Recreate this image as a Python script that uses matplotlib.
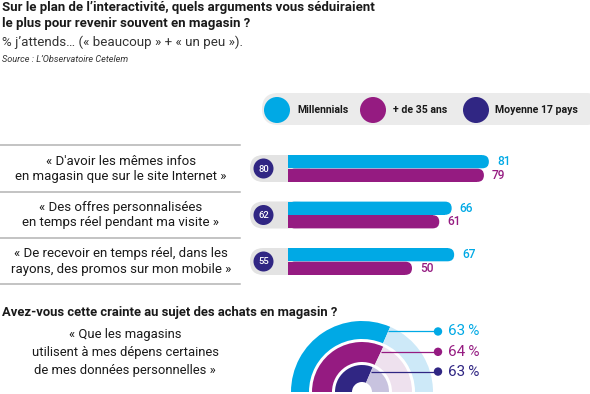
import matplotlib
matplotlib.use("Agg")
import matplotlib.pyplot as plt
import numpy as np
from matplotlib.patches import FancyBboxPatch, Circle

plt.rcParams['font.family'] = ['Roboto', 'DejaVu Sans']

# data
categories = ["« D'avoir les mêmes infos\nen magasin que sur le site Internet »",
              "« Des offres personnalisées\nen temps réel pendant ma visite »",
              "« De recevoir en temps réel, dans les\nrayons, des promos sur mon mobile »"]
millennials = [81, 66, 67]
plus35 = [79, 61, 50]
moyenne = [80, 62, 55]
series_names = ["Millennials", "+ de 35 ans", "Moyenne 17 pays"]

crainte_labels = ["Millennials", "+ de 35 ans", "Moyenne 17 pays"]
crainte = [63, 64, 63]

c_blue, c_purple, c_navy = "#00a9e5", "#951b81", "#302683"
c_light = ["#cde9f8", "#eee1ee", "#c8c3df"]
W, H = 590, 394

fig = plt.figure(figsize=(W / 100, H / 100), dpi=100)


def px_axes(l, t, w, h):
    return fig.add_axes([l / W, 1 - (t + h) / H, w / W, h / H])


ax = px_axes(0, 0, W, H)
ax.set_xlim(0, W)
ax.set_ylim(H, 0)
ax.axis('off')

# titles
ax.text(2, 10.7, "Sur le plan de l’interactivité, quels arguments vous séduiraient",
        fontsize=9.5, fontweight='bold', color='#1a1a1a', va='baseline')
ax.text(2, 26.5, "le plus pour revenir souvent en magasin ?",
        fontsize=9.5, fontweight='bold', color='#1a1a1a', va='baseline')
ax.text(2, 46, "% j’attends… (« beaucoup » + « un peu »).",
        fontsize=9.6, color='#333333', va='baseline')
ax.text(2, 62, "Source : L’Observatoire Cetelem",
        fontsize=6.6, style='italic', color='#333333', va='baseline')

# legend
ax.add_patch(FancyBboxPatch((262, 93), 340, 32, boxstyle="round,pad=0,rounding_size=16",
                            fc='#ebebeb', ec='none'))
for cx, tx, col, name in zip([277, 373, 476], [297, 393, 495],
                             [c_blue, c_purple, c_navy], series_names):
    ax.add_patch(Circle((cx, 110), 13, fc=col, ec='none'))
    ax.text(tx, 110, name, fontsize=7.6, fontweight='bold', color='#1a1a1a', va='center')

# bar section
row_top, row_step = 168.5, 46.5
x0, scale = 288, 2.48
for y in [145, 191.5, 237.5, 283.5]:
    ax.plot([0, 240], [y, y], color='#b3b3b3', lw=1.1)

for i, (lab, m) in enumerate(zip(categories, moyenne)):
    cy = row_top + i * row_step
    ax.text(121, cy, lab, ha='center', va='center', fontsize=9.55, color='#1a1a1a',
            linespacing=1.2)
    ax.add_patch(FancyBboxPatch((250, cy - 13.5), 60, 27,
                                boxstyle="round,pad=0,rounding_size=13.5",
                                fc='#e3e3e3', ec='none'))
    ax.add_patch(Circle((263.5, cy), 10, fc=c_navy, ec='none'))
    ax.text(263.5, cy + 0.5, str(m), ha='center', va='center', fontsize=6.8,
            fontweight='medium', color='white')

axb = px_axes(x0, row_top - row_step / 2, W - x0, row_step * 3)
axb.set_xlim(0, (W - x0) / scale)
axb.set_ylim(2.5, -0.5)
axb.axis('off')

bh = 13.2 / row_step
asp = scale / row_step
rr = 6.6 / scale
for i in range(len(categories)):
    for v, col, off in [(millennials[i], c_blue, -0.146), (plus35[i], c_purple, 0.146)]:
        yb = i + off - bh / 2
        axb.add_patch(FancyBboxPatch((0, yb), v, bh,
                                     boxstyle=f"round,pad=0,rounding_size={rr}",
                                     mutation_aspect=asp, fc=col, ec='none'))
        axb.barh(i + off, v - rr, height=bh, color=col)
        axb.text(v + 3.3, i + off, str(v), color=col, fontsize=8.6, va='center',
                 fontweight='medium')

# crainte section
ax.text(2, 316, "Avez-vous cette crainte au sujet des achats en magasin ?",
        fontsize=9.4, fontweight='bold', color='#1a1a1a', va='baseline')
ax.text(125, 352.5, "« Que les magasins\nutilisent à mes dépens certaines\nde mes données personnelles »",
        ha='center', va='center', fontsize=9.4, color='#1a1a1a', linespacing=1.5)

rc_x, rc_y = 362, 392
axr = px_axes(rc_x - 90, rc_y - 90, 180, 180)
radii = [71, 50, 27]
widths = [18, 20, 17]
dark = [c_blue, c_purple, c_navy]
for k, v in enumerate(crainte):
    axr.pie([v, 100 - v, 100], radius=radii[k], startangle=180, counterclock=False,
            colors=[dark[k], c_light[k], 'none'],
            wedgeprops=dict(width=widths[k], edgecolor='none'))
axr.set_xlim(-90, 90)
axr.set_ylim(-90, 90)
axr.set_aspect('equal')
axr.axis('off')

for k, v in enumerate(crainte):
    th = np.deg2rad(180 - 180 * v / 100)
    r = radii[k] - 0.28 * widths[k]
    sx, sy = r * np.cos(th), r * np.sin(th)
    axr.plot([sx, 76], [sy, sy], color=dark[k], lw=0.9, solid_capstyle='butt')
    axr.add_patch(Circle((76, sy), 4.2, fc=dark[k], ec='none'))
    axr.text(86, sy, f"{v}\u2009%", color=dark[k], fontsize=11, va='center',
             clip_on=False)

fig.savefig("out.png", dpi=100)
